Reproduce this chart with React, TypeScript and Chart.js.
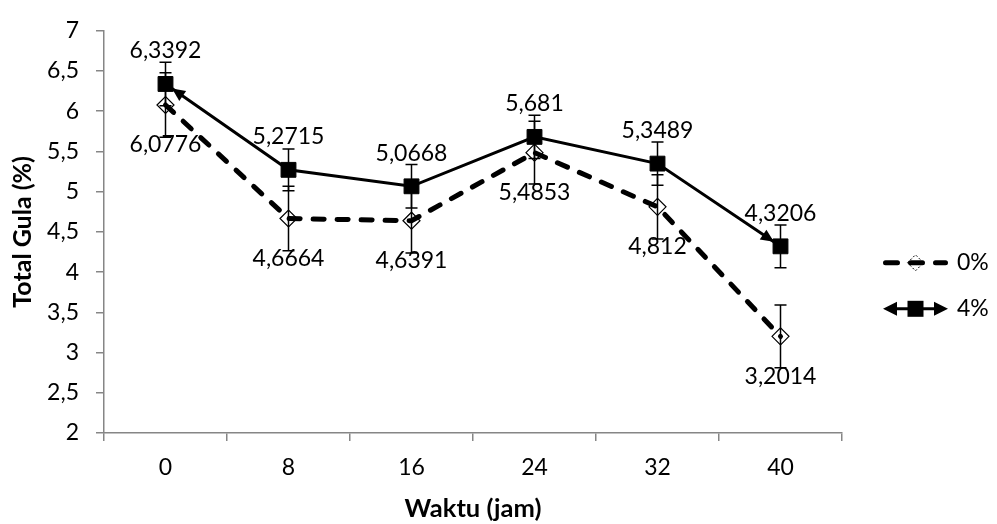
import React, { useEffect, useRef } from 'react';
import { Chart, registerables } from 'chart.js';

Chart.register(...registerables);

// ---- data ----
const categories = ['0', '8', '16', '24', '32', '40'];
const series0Label = '0%';
const series4Label = '4%';
const values0 = [6.0776, 4.6664, 4.6391, 5.4853, 4.812, 3.2014];
const values4 = [6.3392, 5.2715, 5.0668, 5.681, 5.3489, 4.3206];
const err0 = [0.4, 0.4, 0.4, 0.39, 0.4, 0.39];
const err4 = [0.27, 0.26, 0.27, 0.27, 0.27, 0.265];
const yMin = 2;
const yMax = 7;
const yStep = 0.5;
const xTitle = 'Waktu (jam)';
const yTitle = 'Total Gula (%)';

const FONT = 'Lato';
const AXIS = '#868686';

const fmt = (v: number) => String(v).replace('.', ',');

function drawArrow(ctx: CanvasRenderingContext2D, fx: number, fy: number, tx: number, ty: number, gap: number, len: number, half: number) {
  const dx = tx - fx, dy = ty - fy;
  const d = Math.hypot(dx, dy) || 1;
  const ux = dx / d, uy = dy / d;
  const tipX = tx - ux * gap, tipY = ty - uy * gap;
  const bx = tipX - ux * len, by = tipY - uy * len;
  ctx.beginPath();
  ctx.moveTo(tipX, tipY);
  ctx.lineTo(bx - uy * half, by + ux * half);
  ctx.lineTo(bx + uy * half, by - ux * half);
  ctx.closePath();
  ctx.fill();
}

export default function App() {
  const ref = useRef<HTMLCanvasElement>(null);

  useEffect(() => {
    const canvas = ref.current;
    if (!canvas) return;

    const errorBars = {
      id: 'errorBars',
      beforeDatasetsDraw(chart: any) {
        const { ctx } = chart;
        const y = chart.scales.y;
        const sets: [number[], number[]][] = [[values0, err0], [values4, err4]];
        ctx.save();
        ctx.strokeStyle = '#000';
        ctx.lineWidth = 1.5;
        sets.forEach(([vals, errs], di) => {
          const meta = chart.getDatasetMeta(di);
          meta.data.forEach((pt: any, i: number) => {
            const x = pt.x;
            const yt = y.getPixelForValue(vals[i] + errs[i]);
            const yb = y.getPixelForValue(vals[i] - errs[i]);
            ctx.beginPath();
            ctx.moveTo(x, yt);
            ctx.lineTo(x, yb);
            ctx.moveTo(x - 6, yt);
            ctx.lineTo(x + 6, yt);
            ctx.moveTo(x - 6, yb);
            ctx.lineTo(x + 6, yb);
            ctx.stroke();
          });
        });
        ctx.restore();
      },
    };

    const labelsAndArrows = {
      id: 'labelsAndArrows',
      afterDatasetsDraw(chart: any) {
        const { ctx } = chart;
        ctx.save();
        // arrows on 4% line ends
        const m4 = chart.getDatasetMeta(1).data;
        ctx.fillStyle = '#000';
        if (m4.length > 1) {
          drawArrow(ctx, m4[1].x, m4[1].y, m4[0].x, m4[0].y, 8, 13, 6);
          const n = m4.length;
          drawArrow(ctx, m4[n - 2].x, m4[n - 2].y, m4[n - 1].x, m4[n - 1].y, 8, 13, 6);
        }
        // data labels
        ctx.font = `23px ${FONT}`;
        ctx.textAlign = 'center';
        ctx.textBaseline = 'middle';
        ctx.fillStyle = '#000';
        const m0 = chart.getDatasetMeta(0).data;
        m0.forEach((pt: any, i: number) => ctx.fillText(fmt(values0[i]), pt.x, pt.y + 40));
        m4.forEach((pt: any, i: number) => ctx.fillText(fmt(values4[i]), pt.x, pt.y - 33));
        ctx.restore();
      },
    };

    const legend = {
      id: 'customLegend',
      afterDraw(chart: any) {
        const { ctx, chartArea } = chart;
        const x0 = chartArea.right + 41;
        const x1 = chartArea.right + 106;
        const cx = (x0 + x1) / 2;
        const tx = chartArea.right + 115;
        const yA = chartArea.top + 232;
        const yB = chartArea.top + 278;
        ctx.save();
        // 0% entry
        ctx.strokeStyle = '#000';
        ctx.lineWidth = 5;
        ctx.lineCap = 'round';
        ctx.setLineDash([12, 13]);
        ctx.beginPath();
        ctx.moveTo(x0 + 2.5, yA);
        ctx.lineTo(x1 - 2.5, yA);
        ctx.stroke();
        ctx.setLineDash([2, 2]);
        ctx.lineWidth = 1;
        ctx.lineCap = 'butt';
        ctx.beginPath();
        ctx.moveTo(cx - 8, yA);
        ctx.lineTo(cx, yA - 8);
        ctx.lineTo(cx + 8, yA);
        ctx.lineTo(cx, yA + 8);
        ctx.closePath();
        ctx.stroke();
        ctx.setLineDash([]);
        // 4% entry
        ctx.lineWidth = 3;
        ctx.beginPath();
        ctx.moveTo(x0 + 8, yB);
        ctx.lineTo(x1 - 8, yB);
        ctx.stroke();
        ctx.fillStyle = '#000';
        drawArrow(ctx, cx, yB, x0 - 0.01, yB, 0, 14, 7);
        drawArrow(ctx, cx, yB, x1 + 0.01, yB, 0, 14, 7);
        ctx.fillRect(cx - 8, yB - 8, 16, 16);
        // texts
        ctx.font = `23px ${FONT}`;
        ctx.textAlign = 'left';
        ctx.textBaseline = 'middle';
        ctx.fillText(series0Label, tx, yA);
        ctx.fillText(series4Label, tx, yB);
        ctx.restore();
      },
    };

    const chart = new Chart(canvas, {
      type: 'line',
      data: {
        labels: categories,
        datasets: [
          {
            label: series0Label,
            data: values0,
            borderColor: '#000',
            borderWidth: 5,
            borderDash: [11, 13],
            borderCapStyle: 'round',
            tension: 0,
            fill: false,
            pointStyle: 'rectRot',
            pointRadius: 8.5,
            pointBorderWidth: 1.2,
            pointBorderColor: '#000',
            pointBackgroundColor: 'rgba(255,255,255,0)',
          },
          {
            label: series4Label,
            data: values4,
            borderColor: '#000',
            borderWidth: 3,
            tension: 0,
            fill: false,
            pointStyle: 'rect',
            pointRadius: 10.5,
            pointBorderWidth: 1,
            pointBorderColor: '#000',
            pointBackgroundColor: '#000',
          },
        ],
      },
      options: {
        responsive: false,
        animation: false,
        events: [],
        layout: { padding: { left: 0, right: 155, top: 20, bottom: 0 } },
        plugins: {
          legend: { display: false },
          tooltip: { enabled: false },
          title: { display: false },
        },
        scales: {
          x: {
            type: 'category',
            offset: true,
            grid: {
              offset: true,
              drawOnChartArea: false,
              drawTicks: true,
              tickLength: 8,
              color: AXIS,
              lineWidth: 1.5,
            },
            border: { color: AXIS, width: 1.5 },
            ticks: { color: '#000', font: { family: FONT, size: 23 }, padding: 13, maxRotation: 0 },
            title: {
              display: true,
              text: xTitle,
              color: '#000',
              font: { family: FONT, size: 25.5, weight: 'bold' },
              padding: { top: 0, bottom: 0 },
            },
            afterFit(s: any) {
              s.height = 91;
            },
          },
          y: {
            type: 'linear',
            min: yMin,
            max: yMax,
            grid: {
              drawOnChartArea: false,
              drawTicks: true,
              tickLength: 8,
              color: AXIS,
              lineWidth: 1.5,
            },
            border: { color: AXIS, width: 1.5 },
            ticks: {
              stepSize: yStep,
              color: '#000',
              font: { family: FONT, size: 23 },
              padding: 17,
              callback: (v: any) => fmt(Number(v)),
            },
            title: {
              display: true,
              text: yTitle,
              color: '#000',
              font: { family: FONT, size: 25, weight: 'bold' },
              padding: { top: 8, bottom: 0 },
            },
            afterFit(s: any) {
              s.width = 104;
            },
          },
        },
      },
      plugins: [errorBars, labelsAndArrows, legend],
    } as any);

    return () => chart.destroy();
  }, []);

  return (
    <div style={{ position: 'absolute', left: 0, top: 0, width: 997, height: 524, background: '#fff' }}>
      <canvas ref={ref} width={997} height={524} style={{ display: 'block' }} />
    </div>
  );
}
